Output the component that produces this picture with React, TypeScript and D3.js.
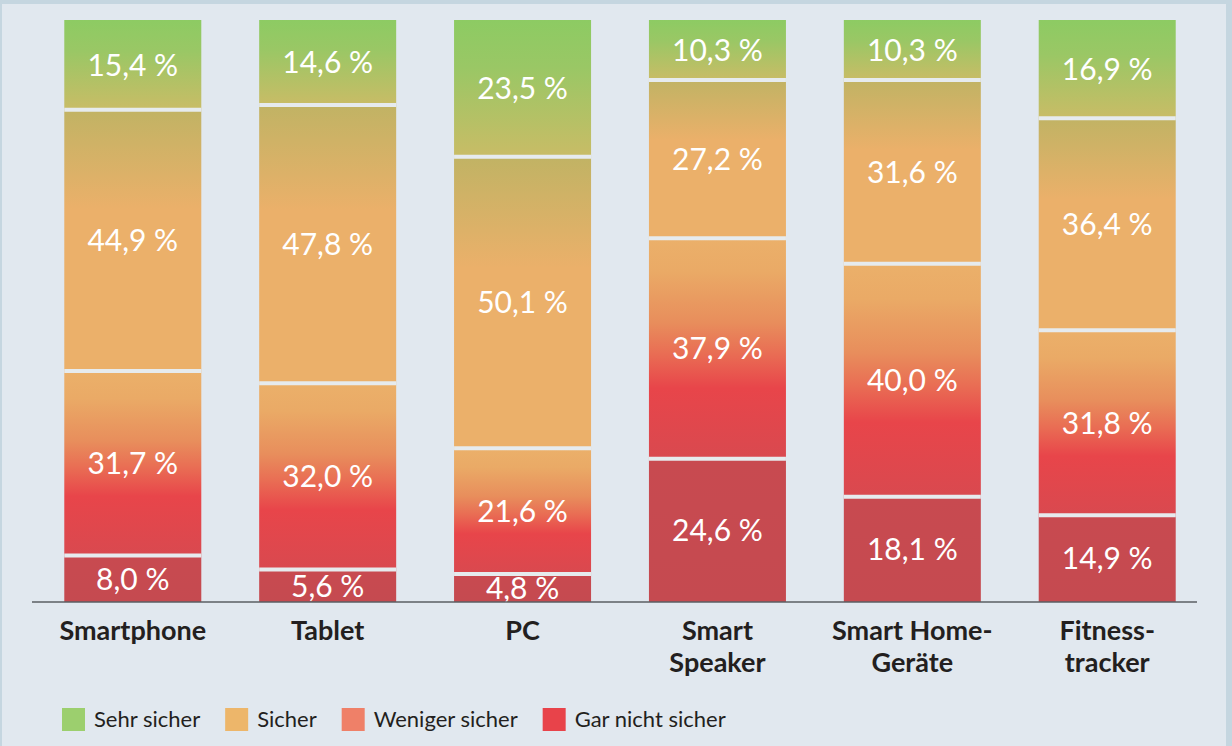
import React, { useEffect, useRef } from 'react';
import * as d3 from 'd3';

// categories (x axis), lines split for the two-row labels
const categories = ["Smartphone", "Tablet", "PC", "Smart Speaker", "Smart Home-Geräte", "Fitnesstracker"];
const categoryLines = [["Smartphone"], ["Tablet"], ["PC"], ["Smart", "Speaker"], ["Smart Home-", "Geräte"], ["Fitness-", "tracker"]];

// series, top to bottom in the bar
const sehrSicher = [15.4, 14.6, 23.5, 10.3, 10.3, 16.9];
const sicher = [44.9, 47.8, 50.1, 27.2, 31.6, 36.4];
const wenigerSicher = [31.7, 32.0, 21.6, 37.9, 40.0, 31.8];
const garNichtSicher = [8.0, 5.6, 4.8, 24.6, 18.1, 14.9];

const seriesNames = ["Sehr sicher", "Sicher", "Weniger sicher", "Gar nicht sicher"];
const legendColors = ["#9ccf6e", "#edb66a", "#ef8068", "#e8434a"];

const App: React.FC = () => {
  const svgRef = useRef<SVGSVGElement | null>(null);

  useEffect(() => {
    document.body.style.margin = "0";

    const width = 1232;
    const height = 746;
    const top = 20;
    const baseline = 602;

    const svg = d3.select(svgRef.current);
    svg.selectAll("*").remove();
    svg.attr("width", width).attr("height", height);

    // background + frame
    svg.append("rect").attr("width", width).attr("height", height).attr("fill", "#c5d6e0");
    svg.append("rect").attr("x", 2).attr("y", 4).attr("width", 1224).attr("height", height - 4).attr("fill", "#e1e8ef");

    const rows = categories.map((c, i) => ({
      cat: c,
      gar: garNichtSicher[i],
      weniger: wenigerSicher[i],
      sicher: sicher[i],
      sehr: sehrSicher[i],
    }));
    const keys = ["gar", "weniger", "sicher", "sehr"];
    const stacked = d3.stack<any>().keys(keys)(rows);

    const x = d3.scaleBand()
      .domain(categories)
      .range([37, 1203])
      .paddingInner(0.297)
      .paddingOuter(0.14);

    const y = d3.scaleLinear().domain([0, 100]).range([baseline, top]);

    // gradients per series (each segment gets its own)
    const defs = svg.append("defs");
    const gradStops: Record<string, [number, string][]> = {
      sehr: [[0, "#8dcb63"], [0.35, "#9ac765"], [1, "#c9bc66"]],
      sicher: [[0, "#c1b364"], [0.38, "#ebb06a"], [1, "#ebb06a"]],
      weniger: [[0, "#ebb06a"], [0.15, "#eaaa66"], [0.38, "#e88e5c"], [0.52, "#e96e54"], [0.68, "#e8454a"], [1, "#d9494f"]],
      gar: [[0, "#c84a50"], [1, "#c54a50"]],
    };
    Object.entries(gradStops).forEach(([k, stops]) => {
      const g = defs.append("linearGradient")
        .attr("id", "grad-" + k)
        .attr("x1", 0).attr("y1", 0).attr("x2", 0).attr("y2", 1);
      stops.forEach(([o, c]) => g.append("stop").attr("offset", o).attr("stop-color", c));
    });

    const layer = svg.append("g")
      .selectAll("g")
      .data(stacked)
      .join("g")
      .attr("fill", d => `url(#grad-${d.key})`);

    layer.selectAll("rect")
      .data(d => d.map(v => ({ v, cat: v.data.cat })))
      .join("rect")
      .attr("x", d => x(d.cat)!)
      .attr("width", x.bandwidth())
      .attr("y", d => y(d.v[1]))
      .attr("height", d => y(d.v[0]) - y(d.v[1]));

    // separators between segments
    svg.append("g")
      .selectAll("line")
      .data(stacked.slice(0, 3).flatMap(s => s.map(v => ({ cat: v.data.cat, val: v[1] }))))
      .join("line")
      .attr("x1", d => x(d.cat)!)
      .attr("x2", d => x(d.cat)! + x.bandwidth())
      .attr("y1", d => y(d.val))
      .attr("y2", d => y(d.val))
      .attr("stroke", "#e6ebee")
      .attr("stroke-width", 4);

    // value labels
    svg.append("g")
      .selectAll("text")
      .data(stacked.flatMap(s => s.map(v => ({ cat: v.data.cat, v0: v[0], v1: v[1] }))))
      .join("text")
      .attr("x", d => x(d.cat)! + x.bandwidth() / 2)
      .attr("y", d => (y(d.v0) + y(d.v1)) / 2)
      .attr("dy", "0.36em")
      .attr("text-anchor", "middle")
      .attr("fill", "#ffffff")
      .attr("font-family", "Lato, sans-serif")
      .attr("font-size", 30)
      .text(d => d3.format(".1f")(d.v1 - d.v0).replace(".", ",") + " %");

    // baseline
    svg.append("line")
      .attr("x1", 32).attr("x2", 1197)
      .attr("y1", baseline).attr("y2", baseline)
      .attr("stroke", "#5a5f63")
      .attr("stroke-width", 1.5);

    // category labels
    const catText = svg.append("g")
      .selectAll("text")
      .data(categories.map((c, i) => ({ c, lines: categoryLines[i] })))
      .join("text")
      .attr("text-anchor", "middle")
      .attr("fill", "#231f20")
      .attr("font-family", "Lato, sans-serif")
      .attr("font-weight", "bold")
      .attr("font-size", 27)
      .attr("transform", d => `translate(${x(d.c)! + x.bandwidth() / 2},640)`);

    catText.selectAll("tspan")
      .data(d => d.lines)
      .join("tspan")
      .attr("x", 0)
      .attr("y", (_, j) => j * 32)
      .text(d => d);

    // legend
    const legend = svg.append("g").attr("transform", "translate(62,708)");
    let lx = 0;
    seriesNames.forEach((name, i) => {
      const item = legend.append("g").attr("transform", `translate(${lx},0)`);
      item.append("rect").attr("width", 23).attr("height", 23).attr("fill", legendColors[i]);
      const t = item.append("text")
        .attr("x", 32)
        .attr("y", 19)
        .attr("fill", "#231f20")
        .attr("font-family", "Lato, sans-serif")
        .attr("font-size", 22)
        .text(name);
      const w = (t.node() as SVGTextElement).getComputedTextLength();
      lx += 32 + w + 25;
    });
  }, []);

  return <svg ref={svgRef} style={{ display: "block" }}></svg>;
};

export default App;
